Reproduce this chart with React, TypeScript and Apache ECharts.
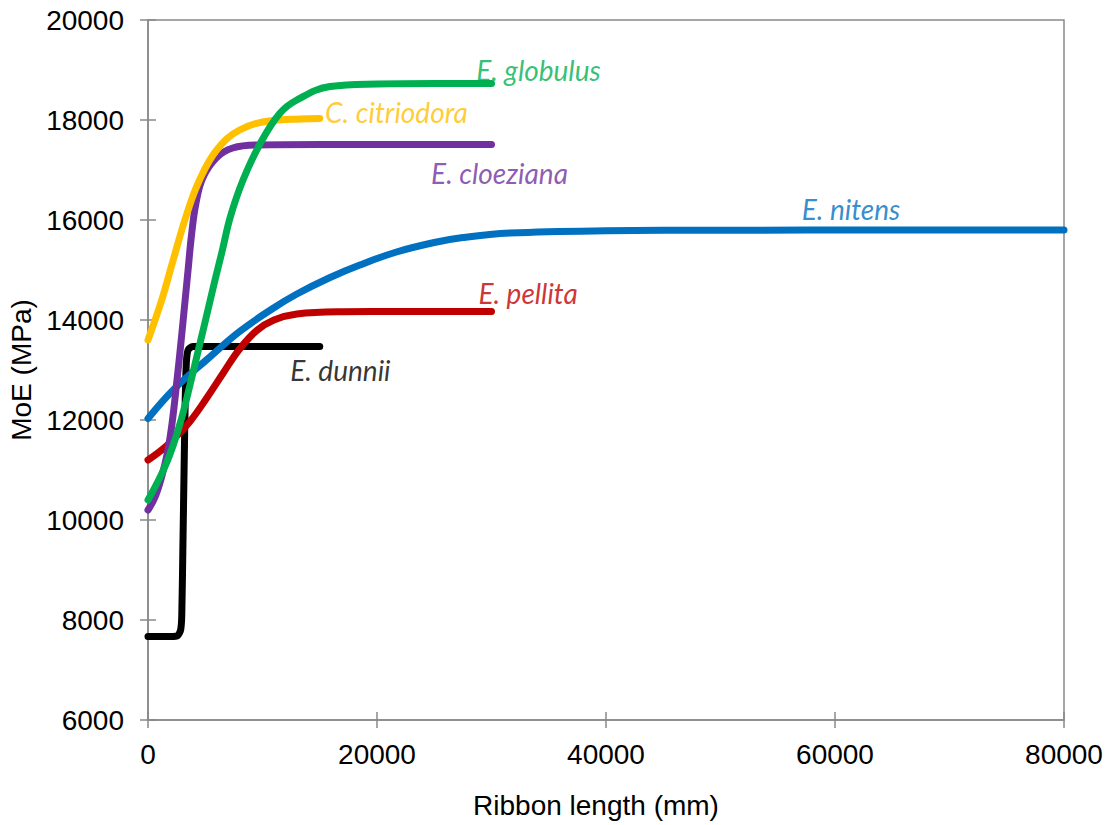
import React, { useEffect, useRef } from "react";
import * as echarts from "echarts";

const xTicks = [0, 20000, 40000, 60000, 80000];
const yTicks = [6000, 8000, 10000, 12000, 14000, 16000, 18000, 20000];

const globulusX = [0, 1600, 2800, 3700, 4400, 5100, 5800, 6500, 7200, 8300, 9800, 11500, 13000, 15900, 20000, 25000, 30000];
const globulusY = [10400, 11130, 11930, 12730, 13400, 14070, 14750, 15400, 16070, 16800, 17530, 18130, 18400, 18670, 18720, 18730, 18730];

const citriodoraX = [0, 1200, 2200, 3400, 4500, 6000, 8000, 10900, 13300, 15000];
const citriodoraY = [13600, 14400, 15200, 16130, 16800, 17400, 17800, 17990, 18020, 18030];

const cloezianaX = [0, 600, 1200, 1700, 2100, 2500, 2900, 3200, 3500, 3800, 4200, 4800, 6000, 7400, 9500, 15000, 30000];
const cloezianaY = [10200, 10450, 10870, 11350, 11930, 12730, 13600, 14300, 15000, 15700, 16350, 16850, 17250, 17440, 17500, 17510, 17510];

const nitensX = [0, 2200, 5100, 8000, 10900, 13000, 15900, 18500, 21700, 25000, 27500, 31600, 40000, 50000, 65000, 80000];
const nitensY = [12030, 12600, 13200, 13770, 14230, 14520, 14850, 15100, 15360, 15550, 15650, 15740, 15785, 15795, 15800, 15800];

const pellitaX = [0, 1300, 2500, 3700, 5100, 6600, 8000, 9500, 11000, 13000, 17000, 22000, 30000];
const pellitaY = [11200, 11420, 11680, 11980, 12430, 12950, 13420, 13790, 14000, 14120, 14165, 14170, 14170];

const dunniiX = [0, 2000, 2600, 2850, 2950, 3050, 3150, 3250, 3350, 3500, 3900, 15000];
const dunniiY = [7670, 7670, 7690, 7800, 8100, 9500, 11000, 12400, 13150, 13400, 13470, 13470];

const seriesNames = ["E. globulus", "C. citriodora", "E. cloeziana", "E. nitens", "E. pellita", "E. dunnii"];
const seriesColors = ["#00B050", "#FFC000", "#7030A0", "#0070C0", "#C00000", "#000000"];
const seriesXs = [globulusX, citriodoraX, cloezianaX, nitensX, pellitaX, dunniiX];
const seriesYs = [globulusY, citriodoraY, cloezianaY, nitensY, pellitaY, dunniiY];
const seriesSmooth = [0.4, 0.4, 0.4, 0.4, 0.4, 0.2];

// label anchor positions (data units)
const labelX = [34100, 21700, 30700, 61400, 33200, 16800];
const labelY = [19000, 18160, 16940, 16220, 14540, 13000];

const AXIS_GREY = "#898989";
const TICK_FONT = "'Liberation Sans', Arial, sans-serif";

export default function App() {
  const ref = useRef<HTMLDivElement>(null);
  useEffect(() => {
    document.body.style.margin = "0";
    if (!ref.current) return;
    const chart = echarts.init(ref.current, null, { renderer: "svg" });
    const lineSeries = seriesNames.map((name, i) => ({
      name,
      type: "line",
      xAxisIndex: 0,
      yAxisIndex: 0,
      data: seriesXs[i].map((x, j) => [x, seriesYs[i][j]]),
      smooth: seriesSmooth[i],
      showSymbol: false,
      symbol: "none",
      lineStyle: { color: seriesColors[i], width: 7, cap: "round", join: "round" },
      itemStyle: { color: seriesColors[i] },
      silent: true,
      z: 10 - i,
    }));
    const labelSeries = {
      type: "scatter",
      xAxisIndex: 0,
      yAxisIndex: 0,
      symbolSize: 0,
      silent: true,
      z: 20,
      data: seriesNames.map((name, i) => ({
        value: [labelX[i], labelY[i]],
        name,
        label: { color: seriesColors[i] },
      })),
      label: {
        show: true,
        position: "inside",
        formatter: (p: any) => p.name,
        fontFamily: "Lato, 'Open Sans', sans-serif",
        fontStyle: "italic",
        fontSize: 28,
      },
    };
    const axisCommonX = {
      type: "value",
      min: xTicks[0],
      max: xTicks[xTicks.length - 1],
      interval: xTicks[1] - xTicks[0],
      splitLine: { show: false },
    };
    const axisCommonY = {
      type: "value",
      min: yTicks[0],
      max: yTicks[yTicks.length - 1],
      interval: yTicks[1] - yTicks[0],
      splitLine: { show: false },
    };
    const plain = (v: number) => String(v);
    chart.setOption({
      animation: false,
      grid: {
        left: 148,
        right: 47,
        top: 20,
        bottom: 105,
        show: true,
        borderColor: AXIS_GREY,
        borderWidth: 1.5,
        backgroundColor: "transparent",
        containLabel: false,
        outerBoundsMode: "none",
      },
      xAxis: [
        {
          ...axisCommonX,
          position: "bottom",
          name: "Ribbon length (mm)",
          nameLocation: "middle",
          nameGap: 71,
          nameTextStyle: { fontFamily: TICK_FONT, fontSize: 28, color: "#000", padding: [0, 20, 0, 0] },
          axisLine: { show: true, lineStyle: { color: AXIS_GREY, width: 1.5 } },
          axisTick: { show: true, inside: false, length: 8, lineStyle: { color: AXIS_GREY, width: 1.5 } },
          axisLabel: { fontFamily: TICK_FONT, fontSize: 28, color: "#000", margin: 20, formatter: plain },
        },
        {
          ...axisCommonX,
          position: "bottom",
          axisLine: { show: false },
          axisTick: { show: true, inside: true, length: 8, lineStyle: { color: AXIS_GREY, width: 1.5 } },
          axisLabel: { show: false },
        },
      ],
      yAxis: [
        {
          ...axisCommonY,
          position: "left",
          name: "MoE (MPa)",
          nameLocation: "middle",
          nameGap: 112,
          nameTextStyle: { fontFamily: TICK_FONT, fontSize: 28, color: "#000" },
          axisLine: { show: true, lineStyle: { color: AXIS_GREY, width: 1.5 } },
          axisTick: { show: true, inside: false, length: 8, lineStyle: { color: AXIS_GREY, width: 1.5 } },
          axisLabel: { fontFamily: TICK_FONT, fontSize: 28, color: "#000", margin: 24, formatter: plain },
        },
        {
          ...axisCommonY,
          position: "left",
          axisLine: { show: false },
          axisTick: { show: true, inside: true, length: 8, lineStyle: { color: AXIS_GREY, width: 1.5 } },
          axisLabel: { show: false },
        },
      ],
      series: [...lineSeries, labelSeries],
    });
    return () => chart.dispose();
  }, []);
  return <div ref={ref} style={{ width: 1111, height: 825 }} />;
}
